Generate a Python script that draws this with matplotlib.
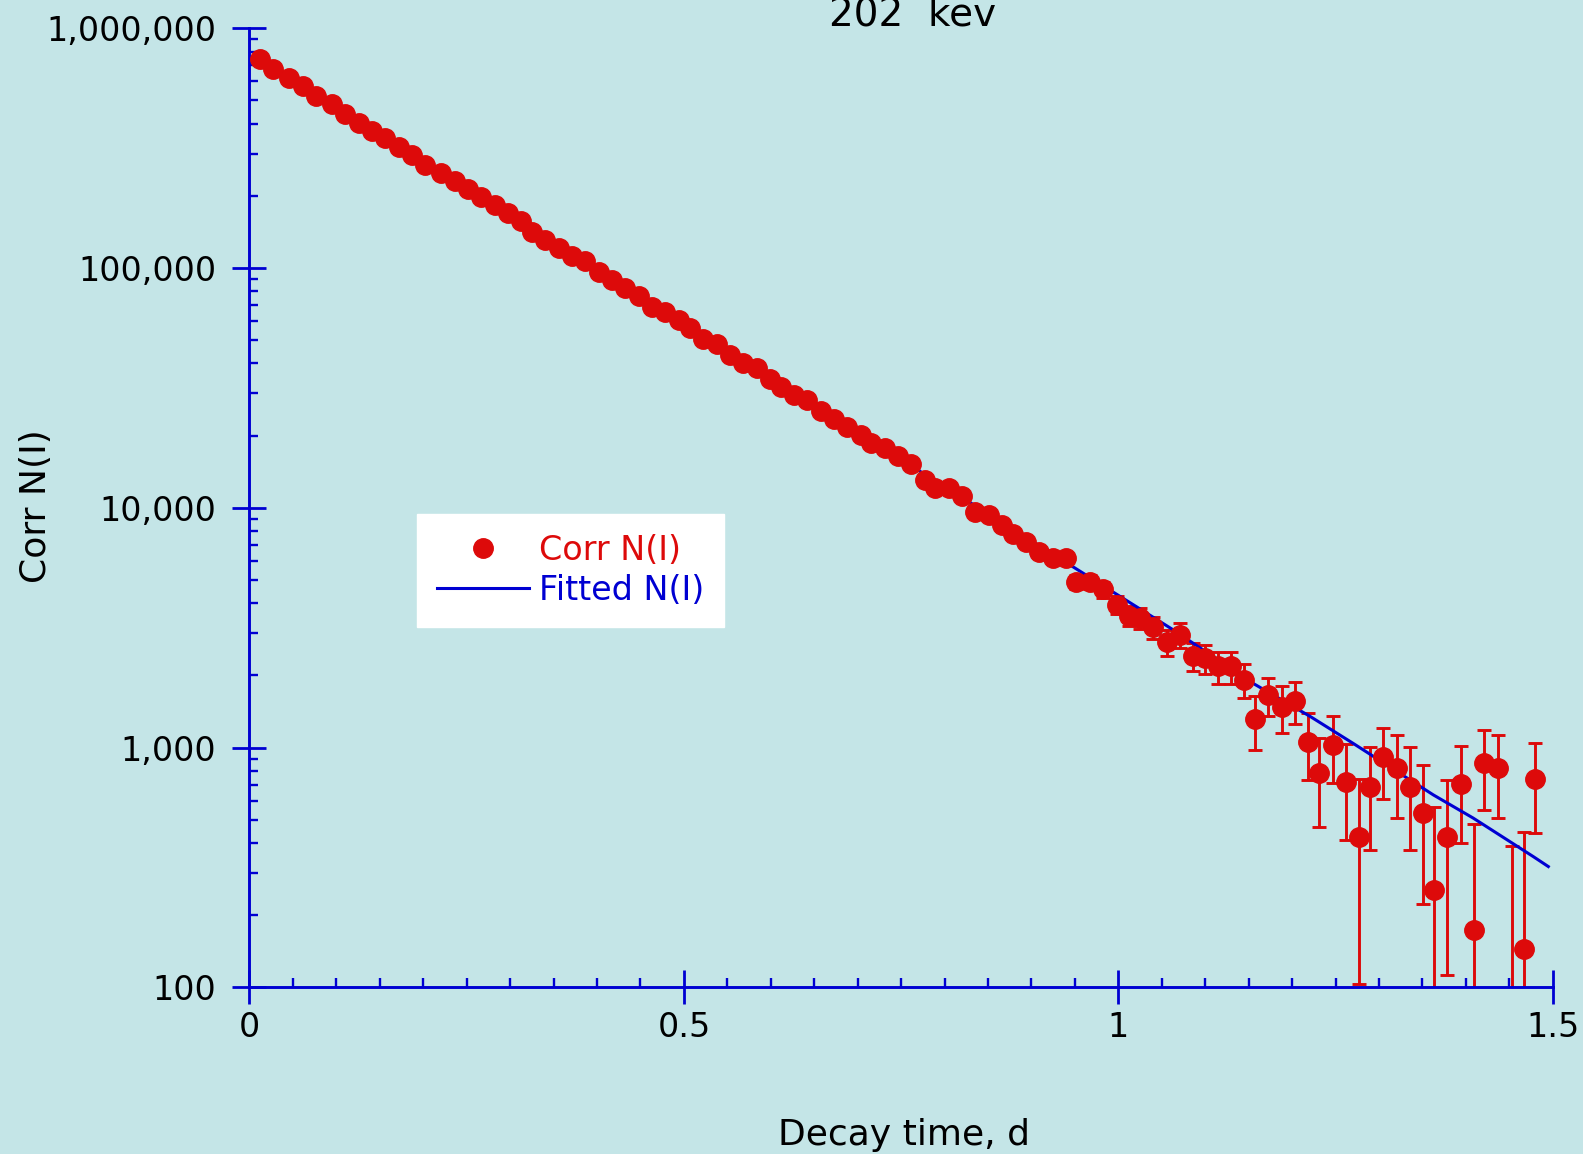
import matplotlib
matplotlib.use('Agg')
import matplotlib.pyplot as plt
from matplotlib.lines import Line2D
from matplotlib.ticker import FixedLocator, LogLocator, MultipleLocator, FuncFormatter, NullFormatter

# Colours
BG = '#c4e5e7'
RED = '#dd0a0a'
BLUE = '#0000d2'

# Measured points: decay time (d), corrected counts and their errors
t_days = [0.0122, 0.0275, 0.0459, 0.0613, 0.0767, 0.0951, 0.1100, 0.1258, 0.1411, 0.1564,
          0.1718, 0.1871, 0.2024, 0.2209, 0.2362, 0.2516, 0.2669, 0.2823, 0.2976, 0.3129,
          0.3252, 0.3406, 0.3559, 0.3713, 0.3866, 0.4019, 0.4173, 0.4326, 0.4480, 0.4633,
          0.4786, 0.4940, 0.5071, 0.5224, 0.5378, 0.5531, 0.5684, 0.5838, 0.5991, 0.6114,
          0.6268, 0.6421, 0.6575, 0.6728, 0.6881, 0.7035, 0.7157, 0.7311, 0.7465, 0.7618,
          0.7772, 0.7894, 0.8048, 0.8201, 0.8354, 0.8508, 0.8661, 0.8784, 0.8938, 0.9091,
          0.9245, 0.9398, 0.9513, 0.9674, 0.9827, 0.9981, 1.0127, 1.0250, 1.0403, 1.0557,
          1.0710, 1.0863, 1.0998, 1.1151, 1.1294, 1.1447, 1.1573, 1.1727, 1.1880, 1.2033,
          1.2187, 1.2310, 1.2467, 1.2616, 1.2773, 1.2897, 1.3050, 1.3204, 1.3357, 1.3510,
          1.3633, 1.3786, 1.3940, 1.4093, 1.4212, 1.4366, 1.4528, 1.4673, 1.4796]

corr_n = [743000, 674000, 623000, 576000, 522000, 482000, 438000, 404000, 374000, 347000,
          321000, 297000, 268000, 249000, 230000, 213000, 197000, 183000, 169000, 157000,
          142000, 131000, 121000, 112000, 107000, 96300, 89100, 82500, 76500, 69000,
          65600, 60800, 56100, 50600, 48200, 43400, 40200, 38200, 34500, 32000,
          29600, 28100, 25400, 23500, 21700, 20100, 18600, 17700, 16400, 15200,
          13000, 12100, 12100, 11200, 9590, 9340, 8440, 7800, 7230, 6530,
          6200, 6200, 4920, 4920, 4570, 3930, 3540, 3470, 3180, 2750,
          2950, 2410, 2360, 2180, 2180, 1920, 1310, 1650, 1480, 1560,
          1060, 781, 1030, 721, 423, 688, 912, 820, 688, 533,
          254, 423, 706, 173, 866, 821, 75, 144, 741]

corr_err = [880, 840, 810, 780, 750, 720, 690, 670, 650, 630,
            610, 590, 570, 560, 550, 530, 520, 510, 500, 490,
            480, 470, 460, 450, 440, 430, 425, 420, 415, 410,
            405, 400, 395, 390, 385, 380, 375, 372, 370, 368,
            366, 364, 362, 360, 358, 356, 355, 354, 353, 352,
            351, 350, 350, 350, 350, 350, 350, 350, 350, 350,
            350, 350, 350, 350, 350, 340, 340, 340, 330, 350,
            350, 330, 330, 330, 330, 310, 330, 300, 330, 310,
            330, 315, 320, 310, 320, 315, 300, 310, 315, 310,
            310, 310, 305, 308, 315, 310, 312, 300, 300]

# Fitted curve, read at a few times along the line
fit_t = [0.0122, 0.25, 0.5, 0.75, 0.95, 1.063, 1.1554, 1.2206, 1.2705, 1.3625, 1.4085, 1.4776, 1.4949]
fit_n = [741000, 215000, 58500, 15900, 5610, 3100, 1850, 1350, 1040, 635, 508, 351, 319]

y_ticks = [100, 1000, 10000, 100000, 1000000]
x_ticks = [0, 0.5, 1, 1.5]

fig = plt.figure(figsize=(15.83, 11.54), dpi=100, facecolor=BG)
ax = fig.add_axes([0.1576, 0.1444, 0.8233, 0.8311], facecolor=BG)
ax.set_yscale('log')

ax.errorbar(t_days, corr_n, yerr=corr_err, fmt='none', ecolor=RED, elinewidth=2.1,
            capsize=4.7, capthick=2.1, zorder=2)
ax.plot(fit_t, fit_n, color=BLUE, lw=2.2, zorder=3)
ax.plot(t_days, corr_n, 'o', color=RED, ms=14, mec=RED, zorder=4)

ax.set_xlim(0, 1.5)
ax.set_ylim(100, 1e6)

# Axes styling
for side in ['top', 'right']:
    ax.spines[side].set_visible(False)
for side in ['left', 'bottom']:
    ax.spines[side].set_color(BLUE)
    ax.spines[side].set_linewidth(2.1)

ax.yaxis.set_major_locator(FixedLocator(y_ticks))
ax.yaxis.set_major_formatter(FuncFormatter(lambda v, p: '{:,.0f}'.format(v)))
ax.yaxis.set_minor_locator(LogLocator(base=10, subs=range(2, 10)))
ax.yaxis.set_minor_formatter(NullFormatter())
ax.xaxis.set_major_locator(FixedLocator(x_ticks))
ax.xaxis.set_major_formatter(FuncFormatter(lambda v, p: '%g' % v))
ax.xaxis.set_minor_locator(MultipleLocator(0.05))

ax.tick_params(which='major', direction='inout', length=24.5, width=2.0, color=BLUE,
               labelsize=24, labelcolor='black')
ax.tick_params(axis='y', which='major', pad=11.5)
ax.tick_params(axis='x', which='major', pad=5)
ax.tick_params(which='minor', direction='in', length=6.7, width=1.7, color=BLUE)

# Legend
handles = [Line2D([], [], ls='none', marker='o', ms=14, color=RED),
           Line2D([], [], color=BLUE, lw=2.2)]
leg = ax.legend(handles, ['Corr N(I)', 'Fitted N(I)'], loc='upper left',
                bbox_to_anchor=(417 / 1583, 1 - 514 / 1154), bbox_transform=fig.transFigure,
                borderaxespad=0, frameon=True, fancybox=False, framealpha=1,
                facecolor='white', edgecolor='white', fontsize=24,
                handlelength=2.75, handletextpad=0.3, borderpad=0.6, labelspacing=0.2)
for txt, c in zip(leg.get_texts(), [RED, BLUE]):
    txt.set_color(c)

# Labels and title
fig.text(913 / 1583, 1 - 26 / 1154, '202  kev', ha='center', va='baseline', fontsize=28)
fig.text(36 / 1583, 1 - 506 / 1154, 'Corr N(I)', rotation=90, ha='center', va='center', fontsize=26)
fig.text(903.6 / 1583, 1 - 1145 / 1154, 'Decay time, d', ha='center', va='baseline', fontsize=26)

fig.savefig('out.png', dpi=100, facecolor=BG)
